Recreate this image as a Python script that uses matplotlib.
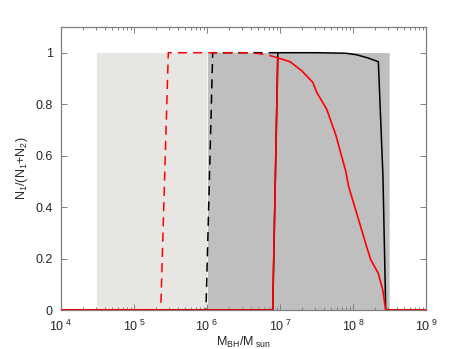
import numpy as np
import matplotlib
matplotlib.use('Agg')
import matplotlib.pyplot as plt

plt.rcParams['font.family'] = ['Liberation Sans', 'DejaVu Sans']
plt.rcParams['mathtext.fontset'] = 'custom'
plt.rcParams['mathtext.rm'] = 'Liberation Sans'
plt.rcParams['mathtext.it'] = 'Liberation Sans'

# shaded mass ranges
light_range = [3.1e4, 1.0e6]
dark_range = [1.0e6, 3.1e8]

# red dashed curve
red_dash_logm = [4.0, 5.366, 5.47, 6.0, 6.5, 6.7, 6.85, 6.97]
red_dash_y = [0.0, 0.0, 1.0, 1.0, 1.0, 0.997, 0.99, 0.98]

# red solid curve
red_logm = [4.0, 6.90, 6.97, 7.137, 7.297, 7.448, 7.503, 7.640, 7.767, 7.822,
            7.90, 7.94, 8.051, 8.188, 8.242, 8.347, 8.407, 8.448, 9.0]
red_y = [0.0, 0.0, 0.98, 0.965, 0.93, 0.885, 0.846, 0.78, 0.678, 0.62,
         0.54, 0.48, 0.375, 0.245, 0.196, 0.142, 0.078, 0.0, 0.0]

# black dashed curve
blk_dash_logm = [4.0, 5.986, 6.078, 6.97]
blk_dash_y = [0.0, 0.0, 1.0, 1.0]

# black solid curve
blk_logm = [4.0, 6.90, 6.97, 7.5, 7.9, 8.05, 8.2, 8.347, 8.41, 8.448, 9.0]
blk_y = [0.0, 0.0, 1.0, 1.0, 0.998, 0.992, 0.98, 0.965, 0.52, 0.0, 0.0]

fig = plt.figure(figsize=(4.71, 3.49), dpi=100)
ax = fig.add_axes([0.1295, 0.1117, 0.775, 0.811])

ax.fill_between(light_range, 0, 1, color='#e8e6e3', lw=0, zorder=1)
ax.fill_between(dark_range, 0, 1, color='#bfbfbf', lw=0, zorder=1)
ax.axvline(1e6, ymin=0, ymax=1/1.1, color='#f4f4f4', lw=0.8, zorder=1.5)
ax.fill_between([dark_range[1], dark_range[1] * 1.05], 0, 1, color='#d6d6d6', lw=0, zorder=1)

ax.plot(10 ** np.array(blk_logm), blk_y, color='black', lw=1.1, zorder=3)
ax.plot(10 ** np.array(blk_dash_logm), blk_dash_y, color='black', lw=1.1,
        ls=(0, (6, 4)), zorder=3)
ax.plot(10 ** np.array(red_dash_logm), red_dash_y, color='red', lw=1.1,
        ls=(0, (6, 4)), zorder=4)
ax.plot(10 ** np.array(red_logm), red_y, color='red', lw=1.2, zorder=4)

ax.set_xscale('log')
ax.set_xlim(1e4, 1e9)
ax.set_ylim(0, 1.1)
ax.set_xticks([1e4, 1e5, 1e6, 1e7, 1e8, 1e9])
ax.set_xticklabels([r'$10^{\ 4}$', r'$10^{\ 5}$', r'$10^{\ 6}$',
                    r'$10^{\ 7}$', r'$10^{\ 8}$', r'$10^{\ 9}$'])
ax.set_yticks([0, 0.2, 0.4, 0.6, 0.8, 1.0])
ax.set_yticklabels(['0', '0.2', '0.4', '0.6', '0.8', '1'])

for s in ax.spines.values():
    s.set_color('#7f7f7f')
    s.set_linewidth(0.9)
ax.tick_params(which='both', direction='in', top=True, right=True,
               colors='#7f7f7f', labelcolor='#262626', labelsize=9)
ax.tick_params(which='major', length=4, width=0.7)
ax.tick_params(which='minor', length=2.5, width=0.7)
ax.tick_params(axis='x', which='major', pad=6)
ax.tick_params(axis='y', which='major', pad=6)

ax.set_xlabel(r'M$_{BH}$/M$_{\ sun}$', fontsize=9, color='#262626', labelpad=1)
ax.set_ylabel(r'N$_1$/(N$_1$+N$_2$)', fontsize=9, color='#262626', labelpad=4)

fig.savefig('out.png', dpi=100)
